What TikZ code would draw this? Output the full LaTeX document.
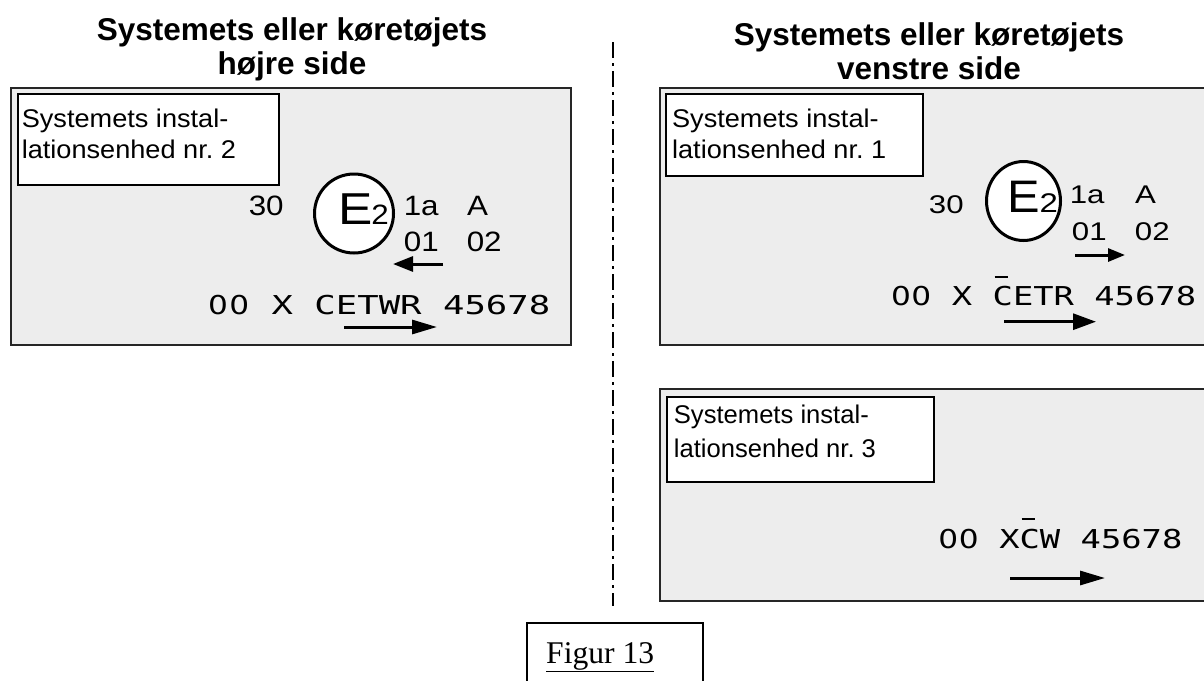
\documentclass[tikz,border=0pt]{standalone}
\usepackage{fontspec}
\setmainfont{Liberation Sans}
\newfontfamily\monoL[FakeStretch=1.37]{DejaVu Sans Mono}
\newfontfamily\monoR[FakeStretch=1.3]{DejaVu Sans Mono}
\newfontfamily\zerofont[FakeStretch=1.2]{DejaVu Sans}
\newfontfamily\sansL[FakeStretch=1.12]{Liberation Sans}
\newfontfamily\sansR[FakeStretch=1.22]{Liberation Sans}
\newfontfamily\sansEL[FakeStretch=1.15]{Liberation Sans}
\newfontfamily\sansER[FakeStretch=1.07]{Liberation Sans}
\newfontfamily\labfont[FakeStretch=1.06]{Liberation Sans}
\newfontfamily\serif{Liberation Serif}
\usetikzlibrary{arrows.meta,calc,shapes.geometric}
\newcommand\fsz[2]{\fontsize{#1}{#2}\selectfont}
\newcommand\barC{\leavevmode\rlap{\hspace{2pt}\rule[28pt]{13pt}{1.6pt}}C}
\newcommand\zr{\leavevmode\hbox to \fontcharwd\font`0{\hss{\zerofont 0}\hss}}
\begin{document}
\frenchspacing
\begin{tikzpicture}[x=1pt,y=-1pt,
  panel/.style={draw=black!85, line width=2pt, fill=black!7},
  labbox/.style={draw=black, line width=2pt, fill=white, inner sep=0, anchor=north west},
  labtxt/.style={inner sep=0, align=left, anchor=north west, font=\labfont\fsz{25.6}{31}},
  seal/.style={draw, line width=3pt, fill=white, inner sep=0},
  arr/.style={line width=3pt, -{Triangle[length=25pt,width=14pt]}},
  sarr/.style={line width=3pt, -{Triangle[length=20pt,width=15pt]}},
  title/.style={font=\bfseries\fsz{31.5}{34.5}, align=center, inner sep=0, anchor=north},
  numL/.style={font=\sansL\fsz{28}{30}, inner sep=0, anchor=base west},
  numR/.style={font=\sansR\fsz{25.6}{30}, inner sep=0, anchor=base west},
  axisline/.style={line width=2pt, dash pattern=on 16pt off 5pt on 3pt off 5pt}
]
\useasboundingbox (0,0) rectangle (1204,680);
% titles
\node[title] (tl) at (292,17) {\rule{0pt}{23pt}Systemets eller køretøjets\\højre side};
\node[title] (tr) at (929,22) {\rule{0pt}{23pt}Systemets eller køretøjets\\venstre side};
% axis
\coordinate (ax1) at (613,42);
\coordinate (ax2) at (613,606);
\draw[axisline] (ax1) -- (ax2);
% panels
\draw[panel] (11,88) rectangle (571,345);
\draw[panel] (660,88) rectangle (1215,345);
\draw[panel] (660,389) rectangle (1215,601);
% label boxes
\node[labbox, minimum width=261pt, minimum height=91pt] (lab2) at (17,93) {};
\node[labtxt] (lab2t) at (21.6,107) {\rule{0pt}{20pt}Systemets instal-\\lationsenhed nr. 2};
\node[labbox, minimum width=257pt, minimum height=82pt] (lab1) at (665,93) {};
\node[labtxt] (lab1t) at (671.9,107.3) {\rule{0pt}{20pt}Systemets instal-\\lationsenhed nr. 1};
\node[labbox, minimum width=267pt, minimum height=85pt] (lab3) at (666,396) {};
\node[labtxt, font=\fsz{25.6}{34}] (lab3t) at (673.7,403.3) {\rule{0pt}{20pt}Systemets instal-\\lationsenhed nr. 3};
% left panel marking
\node[seal, circle, minimum size=79pt] (sealL) at (354,213.5) {};
\node[numL] (n30L) at (248.6,215) {30};
\node[inner sep=0, anchor=base west] (eL) at (337.9,224) {\sansEL\fsz{44.7}{46}E\hspace{-1pt}\sansL\fsz{28}{30}2};
\node[numL] (n1aL) at (403.6,215) {1a\hspace{28.5pt}A};
\node[numL] (n01L) at (403.7,251) {01\hspace{28pt}02};
\coordinate (saL1) at (443,264);
\coordinate (saL2) at (393,264);
\draw[sarr] (saL1) -- (saL2);
\node[inner sep=0, anchor=base west, font=\monoL\fsz{26}{30}] (mL) at (207,314) {\zr\zr{} X CETWR 45678};
\coordinate (baL1) at (344,327);
\coordinate (baL2) at (437,327);
\draw[arr] (baL1) -- (baL2);
% right panel 1 marking
\node[seal, ellipse, minimum width=74pt, minimum height=79pt] (sealR) at (1023.5,201) {};
\node[numR] (n30R) at (928.7,213.3) {30};
\node[inner sep=0, anchor=base west] (eR) at (1006.9,212.7) {\sansER\fsz{45.6}{46}E\sansR\fsz{27}{30}2};
\node[numR] (n1aR) at (1069.6,203.3) {1a\hspace{30.7pt}A};
\node[numR] (n01R) at (1071.7,240) {01\hspace{28.3pt}02};
\coordinate (saR1) at (1075,255);
\coordinate (saR2) at (1125,255);
\draw[sarr, -{Triangle[length=17pt,width=13pt]}] (saR1) -- (saR2);
\node[inner sep=0, anchor=base west, font=\monoR\fsz{26}{30}] (mR) at (890.7,305.7) {\zr\zr{} X \barC ETR 45678};
\coordinate (baR1) at (1004,321.7);
\coordinate (baR2) at (1096,321.7);
\draw[arr, -{Triangle[length=23pt,width=16pt]}] (baR1) -- (baR2);
% right panel 2 marking
\node[inner sep=0, anchor=base west, font=\monoR\fsz{26}{30}] (mR3) at (938,548) {\zr\zr{} X\barC W 45678};
\coordinate (baR31) at (1010,578);
\coordinate (baR32) at (1105,578);
\draw[arr] (baR31) -- (baR32);
% figure caption
\node[draw, line width=1.5pt, minimum width=176pt, minimum height=70pt, anchor=north west, inner sep=0] (figbox) at (526,622) {};
\node[inner sep=0, anchor=base west, font=\serif\fsz{31.6}{34}] (figt) at (546,663) {\underline{Figur 13}};
\end{tikzpicture}
\end{document}
